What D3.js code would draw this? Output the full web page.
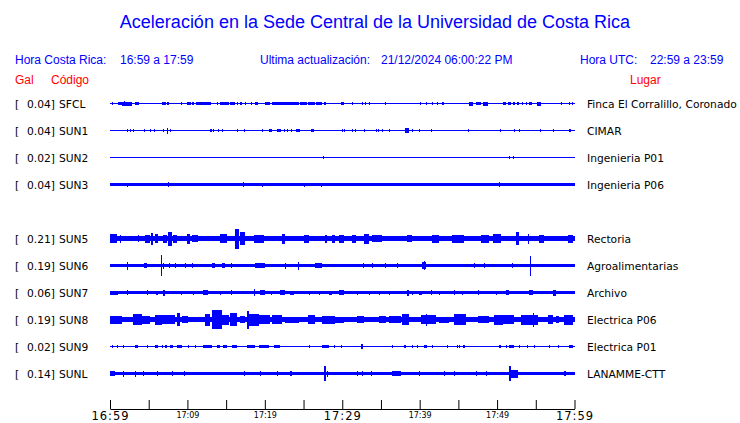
<!DOCTYPE html>
<html><head><meta charset="utf-8">
<script src="https://cdn.jsdelivr.net/npm/d3@7"></script>
<style>body{margin:0;background:#fff}svg{display:block}</style>
</head><body><svg id="c" width="740" height="423"></svg>
<script>
// ---- data ----
const codes  = ["SFCL","SUN1","SUN2","SUN3","SUN5","SUN6","SUN7","SUN8","SUN9","SUNL"];
const slots  = [0,1,2,3,5,6,7,8,9,10];
const peaks  = [0.04,0.04,0.02,0.04,0.21,0.19,0.06,0.19,0.02,0.14];
const places = ["Finca El Corralillo, Coronado","CIMAR","Ingenieria P01","Ingenieria P06","Rectoria","Agroalimentarias","Archivo","Electrica P06","Electrica P01","LANAMME-CTT"];
// background half-amplitude of each trace (relative units)
const baseAmp = [0.5,0.5,0.5,1.4,2.8,1.7,1.5,2.2,0.5,1.7];
// bursts: [start minute, end minute, half-amplitude] (minutes after 16:59)
const evSFCL = [[0.26,0.26,1.5],[1.03,1.55,1.5],[1.55,2.84,2],[1.81,2.0,2.5],[3.23,3.74,1.5],[6.71,7.23,1.5],[7.35,7.61,1.2],[9.16,9.16,1.5],[9.94,10.45,1.5],[10.58,10.84,1.5],[11.1,12.26,1.5],[12.26,13.03,1.5],[13.81,13.81,1.5],[14.19,14.45,1.5],[14.71,15.1,1.5],[14.45,15.35,1.5],[15.48,16.13,1.5],[16.39,16.39,1.5],[16.77,17.03,1.5],[17.42,17.42,1.5],[18.19,18.19,1.5],[18.71,19.1,1.5],[20.0,20.65,1.5],[20.9,24.39,1.5],[24.52,25.42,1.5],[25.55,26.45,1.5],[26.58,27.35,1.5],[27.61,27.87,1.5],[29.81,30.19,1.5],[31.23,31.23,1.5],[32.52,32.52,1.2],[32.9,32.9,1.2],[33.42,33.42,1.2],[35.48,35.48,1.5],[40.0,40.0,1.2],[40.77,40.77,1.5],[41.55,41.55,1.2],[42.19,42.19,1.2],[42.84,43.1,1.5],[46.32,46.84,2],[47.23,47.87,1.5],[48.13,48.77,2],[50.71,51.1,1.5],[51.35,51.74,1.5],[52.0,52.26,1.5],[52.52,52.77,1.5],[53.16,53.29,1.5],[53.68,53.68,1.2],[54.06,54.45,1.5],[55.1,55.61,2],[58.32,58.32,1.2],[59.23,59.23,1.2],[59.74,59.74,1.5]];
const evSUN1 = [[2.19,2.19,1.5],[2.58,2.58,1.5],[2.97,2.97,1.2],[4.39,4.39,1.2],[5.16,5.16,1.2],[5.68,5.68,1.2],[6.84,6.84,1.2],[7.35,7.48,3],[7.74,7.74,1.2],[12.9,13.16,1.5],[13.29,13.29,1.2],[13.94,13.94,1.2],[14.45,14.45,1.2],[16.39,16.39,1.2],[17.29,17.29,1.2],[19.61,19.61,1.2],[20.52,20.9,1.5],[21.55,22.06,1.5],[22.45,22.45,1.2],[22.84,22.84,1.5],[23.35,23.35,1.2],[24.0,24.52,1.5],[25.94,26.32,1.5],[29.94,29.94,1.2],[30.19,30.19,1.5],[31.23,31.23,1.2],[31.61,31.61,1.2],[32.77,32.77,1.2],[34.32,34.32,1.2],[34.58,34.58,1.2],[35.1,35.23,1.5],[36.0,36.0,1.2],[38.06,38.58,2.2],[39.0,39.1,1.5],[39.87,39.87,1.2],[41.42,41.42,1.2],[46.19,46.19,1.2],[50.32,50.32,1.2],[52.13,52.13,1.5],[52.77,52.77,1.5],[55.48,55.48,1.5],[57.16,57.16,1.2],[59.23,59.61,1.8]];
const evSUN2 = [[27.48,27.48,1.5],[51.48,51.48,1.5],[52.0,52.13,1.8]];
const evSUN3 = [[0.26,0.26,1.8],[2.19,2.19,2],[2.97,2.97,1.8],[7.48,7.48,2.5],[9.16,9.16,1.8],[17.16,17.16,2.5],[19.61,19.61,2],[25.0,25.0,2],[27.23,27.23,2],[36.0,36.0,1.8],[43.61,43.61,1.8],[46.84,46.84,1.8],[49.29,49.29,1.8],[50.19,50.32,2.5],[56.65,57.16,1.8],[57.55,57.55,1.8]];
const evSUN5 = [[0,0.9,4.5],[1.29,1.29,4],[3.61,3.61,3.5],[4.5,5.16,4],[5.29,5.55,6],[5.81,6.19,4.5],[6.84,7.35,4],[7.48,8.0,7],[8.13,8.65,4],[9.94,10.32,5],[10.58,11.35,3.5],[14.19,15.1,4.5],[16.13,16.65,10],[16.77,17.42,6.5],[18.58,19.87,4],[22.19,22.58,5],[25.03,25.68,4],[27.74,28.0,4],[28.65,29.03,4],[29.55,30.19,4],[31.23,31.74,4],[32.77,33.42,5],[33.81,35.1,3.5],[38.32,38.97,3.5],[41.55,42.45,4],[44.13,45.68,4],[47.87,48.9,4],[49.42,50.45,4.5],[52.39,52.77,6.5],[53.94,54.06,5],[55.35,56.0,4],[59.1,59.87,4]];
const evSUN6 = [[2.19,2.19,4],[4.39,4.77,2.2],[6.58,6.58,10.5],[6.84,6.84,3],[7.61,7.61,2.5],[8.39,8.39,2.5],[9.68,9.68,2.2],[10.58,10.58,2.3],[13.16,13.55,2.2],[14.45,14.84,2.2],[15.61,15.61,2.5],[18.71,20.0,2.2],[22.58,22.58,3],[24.26,24.26,4],[26.45,27.35,2.2],[32.65,32.65,2.5],[33.81,33.81,2.2],[35.48,35.48,2.5],[37.03,37.03,2.2],[40.26,40.77,3.2],[40.52,40.52,4.5],[46.97,46.97,2.3],[48.26,48.26,2.5],[51.87,51.87,2.2],[54.19,54.32,10]];
const evSUN7 = [[0,1.03,2],[2.19,2.19,2.5],[4.77,4.77,2.5],[6.0,6.19,2],[6.84,7.1,3],[9.16,9.16,2],[10.71,10.71,2],[12.0,12.65,2.5],[14.19,14.19,2],[15.61,15.61,2.3],[18.58,18.71,3.5],[19.35,20.0,2.5],[20.77,20.77,2],[21.94,22.58,2.5],[23.23,23.74,2],[25.68,25.68,2],[26.97,26.97,2],[28.26,28.65,2],[29.55,30.19,2.5],[31.87,31.87,2],[33.42,33.42,2],[34.71,34.71,2],[36.0,36.0,2],[38.32,38.58,3],[38.97,38.97,2],[39.87,40.26,2],[41.42,41.42,2.5],[42.45,42.45,2],[44.39,44.39,2.5],[45.42,45.42,2],[47.48,47.61,2.5],[49.81,49.81,2],[51.1,51.48,2.5],[54.06,54.58,2.5],[57.16,57.55,3]];
const evSUN8 = [[0,1.55,4],[1.68,2.84,2.5],[2.97,4.13,5.5],[4.13,5.16,4],[5.81,6.71,5],[6.71,8.39,4.5],[8.65,9.03,6.5],[9.29,10.06,3.5],[12.26,12.9,6],[13.16,14.45,9.5],[14.45,15.35,5],[15.48,16.39,6.5],[16.77,17.42,3.5],[17.68,17.94,9],[17.94,19.23,6],[19.23,20.65,4.5],[20.9,22.19,4.5],[22.58,24.39,3],[25.55,26.45,4.5],[27.35,29.03,4],[29.03,30.19,3],[31.87,32.77,3.5],[34.71,35.61,3.5],[36.0,37.55,3.5],[37.68,38.58,5.5],[40.13,42.06,4.5],[40.77,40.9,6],[42.45,43.74,3],[44.39,45.94,5.5],[47.48,48.9,3.5],[49.55,50.71,5],[50.71,52.13,4.5],[53.03,55.23,5],[54.58,54.71,7],[56.52,57.16,4.5],[57.55,57.94,3.5],[58.58,59.87,5]];
const evSUN9 = [[0.26,0.26,1.5],[0.9,0.9,1.5],[1.68,1.68,1.5],[3.23,3.61,1.8],[4.77,4.77,1.5],[5.81,6.19,1.5],[6.71,6.71,1.5],[7.1,7.35,1.5],[7.74,8.13,1.5],[8.65,9.29,1.5],[10.06,10.06,1.5],[10.97,10.97,1.5],[12.0,13.16,1.8],[13.81,14.19,1.5],[14.58,15.1,1.5],[15.74,16.39,1.5],[17.68,18.71,1.5],[19.23,20.52,1.5],[21.16,21.94,1.5],[25.68,25.68,1.5],[27.35,28.26,1.5],[28.9,28.9,1.5],[29.81,29.94,1.5],[32.39,32.65,2.2],[36.39,36.39,1.5],[37.94,38.19,1.5],[38.97,38.97,1.5],[39.61,39.61,1.5],[40.52,40.9,1.5],[41.55,41.55,1.5],[43.48,43.48,1.5],[44.77,44.77,1.5],[45.03,45.03,1.5],[45.55,45.81,1.5],[50.19,50.45,1.5],[51.1,51.1,1.5],[51.48,52.13,1.5],[52.77,52.77,1.5],[53.81,53.81,1.5],[54.71,54.71,1.5],[56.65,56.65,1.5],[57.81,57.81,1.5],[59.23,59.87,1.5]];
const evSUNL = [[0,0.65,2.2],[1.68,1.68,3],[3.23,3.23,3],[4.26,4.26,2.3],[6.06,6.06,2.5],[8.0,8.0,2.2],[9.55,9.55,2.5],[17.29,17.29,2.2],[19.35,19.35,2.2],[21.55,21.55,2.2],[23.23,23.48,2.5],[27.61,27.87,7.5],[28.0,28.13,3],[31.87,31.87,2.5],[32.52,32.52,2.2],[33.68,33.68,2.2],[36.39,37.55,2.5],[39.87,39.87,2.5],[43.1,43.1,2.2],[44.39,44.39,2.5],[47.23,47.23,2.2],[48.52,48.52,2.2],[51.48,51.74,7.7],[51.74,52.65,4],[58.58,58.84,2.5]];
const traces = [evSFCL,evSUN1,evSUN2,evSUN3,evSUN5,evSUN6,evSUN7,evSUN8,evSUN9,evSUNL];

const tickMinutes = [0,5,10,15,20,25,30,35,40,45,50,55,60];
const tickLabels  = ["16:59","","17:09","","17:19","","17:29","","17:39","","17:49","","17:59"];
const majorTicks  = [0,30,60];

const title = "Aceleración en la Sede Central de la Universidad de Costa Rica";
const localRange = "16:59 a 17:59";
const utcRange = "22:59 a 23:59";
const updated = "21/12/2024 06:00:22 PM";

// ---- drawing ----
const svg = d3.select("#c");
const BLUE = "#0000ff", RED = "#ff0000";
const sans = "'Liberation Sans', Arial, Helvetica, sans-serif";
const dj = "'DejaVu Sans', sans-serif";

const x = d3.scaleLinear().domain([0,60]).range([110,574.5]);
const rowY = d3.scaleLinear().domain([0,1]).range([103.5,130.5]);
const a = d3.scaleLinear().domain([0,1]).range([0,1]);

svg.append("text").attr("x",375).attr("y",28).attr("text-anchor","middle")
  .attr("font-family",sans).attr("font-size",18).attr("fill",BLUE).text(title);

const hdr = [
  {t:"Hora Costa Rica:", x:15},{t:localRange, x:120},
  {t:"Ultima actualización:", x:260},{t:updated, x:381},
  {t:"Hora UTC:", x:580},{t:utcRange, x:650}
];
svg.selectAll("text.hdr").data(hdr).join("text").attr("class","hdr")
  .attr("x",d=>d.x).attr("y",64).attr("font-family",sans).attr("font-size",12)
  .attr("fill",BLUE).text(d=>d.t);

[{t:"Gal",x:15},{t:"Código",x:51},{t:"Lugar",x:630}].forEach(d=>{
  svg.append("text").attr("x",d.x).attr("y",84).attr("font-family",sans)
    .attr("font-size",12).attr("fill",RED).text(d.t);
});

const fmt = d3.format(".2f");
codes.forEach((c,i)=>{
  const cy = rowY(slots[i]);
  const g = svg.append("g").attr("transform",`translate(0,${cy})`);
  const lab = g.append("g").attr("font-family",dj).attr("font-size",10.7).attr("fill","#000");
  lab.append("text").attr("x",15).attr("y",4).text("[");
  lab.append("text").attr("x",55).attr("y",4).attr("text-anchor","end").text(fmt(peaks[i])+"]");
  lab.append("text").attr("x",59).attr("y",4).text(c);
  lab.append("text").attr("x",587).attr("y",4).text(places[i]);

  const tr = g.append("g").attr("fill",BLUE).attr("shape-rendering","crispEdges");
  tr.append("rect").attr("x",x(0)).attr("width",x(60)-x(0)+0.5)
    .attr("y",-a(baseAmp[i])).attr("height",2*a(baseAmp[i]));
  tr.selectAll("rect.ev").data(traces[i]).join("rect").attr("class","ev")
    .attr("x",d=>x(d[0])).attr("width",d=>Math.max(1,x(d[1])-x(d[0])))
    .attr("y",d=>-a(d[2])).attr("height",d=>2*a(d[2]));
});

const axis = d3.axisBottom(x).tickValues(tickMinutes)
  .tickFormat((d,i)=>tickLabels[i]).tickSizeInner(-9).tickSizeOuter(0).tickPadding(3);
const ax = svg.append("g").attr("transform","translate(0,409)").call(axis);
ax.select(".domain").attr("stroke","#000");
ax.selectAll(".tick line").attr("stroke","#000");
ax.selectAll(".tick text").attr("font-family",dj).attr("fill","#000")
  .attr("font-size",d=>majorTicks.includes(d)?11.5:8)
  .attr("letter-spacing",d=>majorTicks.includes(d)?1:0)
  .attr("y",d=>majorTicks.includes(d)?3.2:3);
</script></body></html>
